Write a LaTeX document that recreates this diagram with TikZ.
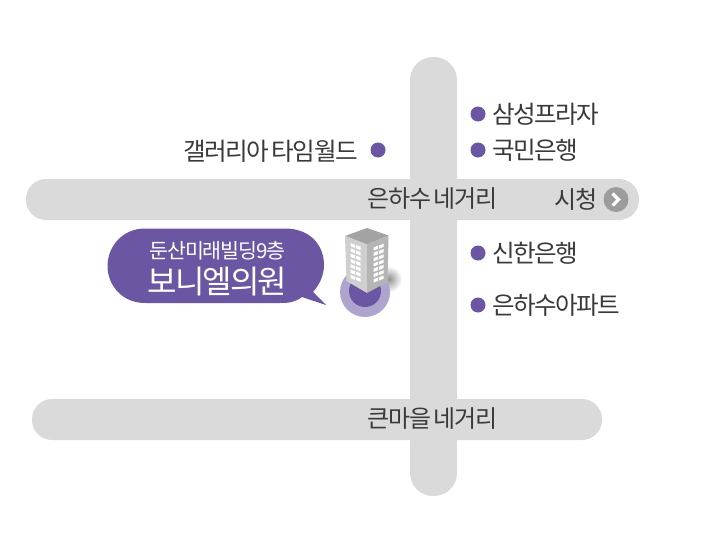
\documentclass[tikz,border=0pt]{standalone}
\usepackage{fontspec}
\newfontfamily\kr[LetterSpace=-6]{Noto Sans CJK KR}
\definecolor{roadgray}{HTML}{DADADA}
\definecolor{purp}{HTML}{6B56A3}
\definecolor{ringp}{HTML}{AFA4CE}
\definecolor{txt}{HTML}{3A3A3A}
\tikzset{
 x=1pt,y=-1pt,
 road/.style={fill=roadgray,draw=none,rounded corners=20pt},
 lbl/.style={font=\kr\fontsize{24.6}{26}\selectfont,text=txt,inner sep=0pt},
 rlbl/.style={font=\kr\fontsize{24}{26}\selectfont,text=txt,inner sep=0pt},
 dotp/.style={circle,fill=purp,minimum size=15pt,inner sep=0pt,draw=none},
}
\begin{document}
\begin{tikzpicture}
\useasboundingbox (0,0) rectangle (711,535);
\fill[white] (0,0) rectangle (711,535);
\fill[road,rounded corners=23pt] (410,57) rectangle (457,496);
\fill[road] (26,179) rectangle (639,220);
\fill[road] (32,399) rectangle (602,440);
\node[dotp] (d1) at (478,114) {};
\node[dotp] (d2) at (478,150) {};
\node[dotp] (d3) at (378,150) {};
\node[dotp] (d4) at (478,253) {};
\node[dotp] (d5) at (478,305) {};
\node[lbl,anchor=west] (t1) at (492,114) {삼성프라자};
\node[lbl,anchor=west] (t2) at (492,150) {국민은행};
\node[lbl,anchor=east] (t3) at (358,151) {갤러리아\hspace{-1.5pt} 타임월드};
\node[lbl,anchor=west] (t4) at (492,253) {신한은행};
\node[lbl,anchor=west] (t5) at (492,305) {은하수아파트};
\node[rlbl] (r1) at (432.5,199) {은하수\hspace{-1.5pt} 네거리};
\node[rlbl] (r2) at (432.5,419) {큰마을\hspace{-1.5pt} 네거리};
\node[rlbl] (r3) at (576,199) {시청};
\node[circle,fill=gray!78,minimum size=25pt,inner sep=0pt] (go) at (616,199.5) {};
\draw[white,line width=3.2pt] (612.5,193.5) -- (618.5,199.5) -- (612.5,205.5);
% bubble
\fill[purp] (145,228.5) -- (285,228.5) .. controls (310,228.5) and (324,245) .. (324,265)
  .. controls (324,276) and (319,285) .. (313,292) -- (326,305) -- (302,297)
  .. controls (295,302) and (290,303) .. (280,303) -- (145,303)
  .. controls (122,303) and (107.5,285) .. (107.5,266) .. controls (107.5,247) and (122,228.5) .. (145,228.5) -- cycle;
\node[font=\kr\fontsize{20.6}{22}\selectfont,text=white,inner sep=0pt] (b1) at (217.5,251) {둔산미래빌딩9층};
\node[font=\kr\fontsize{32}{34}\selectfont,text=white,inner sep=0pt] (b2) at (217.5,282) {보니엘의원};
% shadow, marker
\shade[inner color=gray!85,outer color=white] (389,279) circle (13);
\fill[ringp] (365,292) circle (25);
\fill[purp] (365,291) circle (16);
% building
\fill[gray!72!white] (345,236) -- (367,228) -- (388.5,235.5) -- (367,244.5) -- cycle;
\fill[gray!38!white] (345,236) -- (367,244.5) -- (367,293) -- (346.5,281) -- cycle;
\fill[gray!58!white] (367,244.5) -- (388.5,235.5) -- (387.5,282) -- (367,293) -- cycle;
\foreach \r in {0,...,6}{
 \foreach \c in {0,1}{
  \fill[white] ({350.5+\c*5.5},{243+\r*5.3+\c*2}) -- ++(4.5,1.8) -- ++(0,3.2) -- ++(-4.5,-1.8) -- cycle;
  \fill[white] ({373.5+\c*5.5},{247.5+\r*5.3-\c*2}) -- ++(4.5,-1.8) -- ++(0,3.2) -- ++(-4.5,1.8) -- cycle;
 }}
\end{tikzpicture}
\end{document}
